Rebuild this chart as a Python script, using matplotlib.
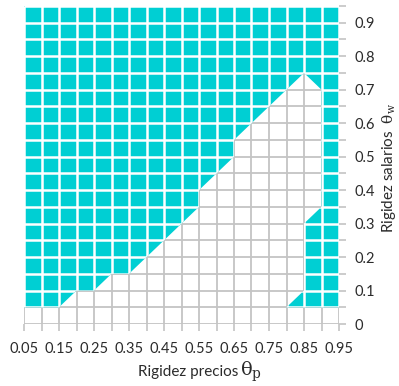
import numpy as np
import matplotlib.pyplot as plt
from matplotlib.ticker import FixedLocator

plt.rcParams['font.family'] = ['Lato', 'DejaVu Sans']
plt.rcParams['mathtext.fontset'] = 'dejavuserif'

# price rigidity (columns) and wage rigidity (rows)
theta_p = [0.05, 0.10, 0.15, 0.20, 0.25, 0.30, 0.35, 0.40, 0.45, 0.50,
           0.55, 0.60, 0.65, 0.70, 0.75, 0.80, 0.85, 0.90, 0.95]
theta_w = [0.00, 0.05, 0.10, 0.15, 0.20, 0.25, 0.30, 0.35, 0.40, 0.45,
           0.50, 0.55, 0.60, 0.65, 0.70, 0.75, 0.80, 0.85, 0.90, 0.95]

# 1 = determinate region, one row per theta_w value (bottom to top)
region = [
    [0, 0, 0, 0, 0, 0, 0, 0, 0, 0, 0, 0, 0, 0, 0, 0, 0, 0, 0],  # 0.00
    [1, 1, 1, 0, 0, 0, 0, 0, 0, 0, 0, 0, 0, 0, 0, 1, 1, 1, 1],  # 0.05
    [1, 1, 1, 1, 1, 0, 0, 0, 0, 0, 0, 0, 0, 0, 0, 0, 1, 1, 1],  # 0.10
    [1, 1, 1, 1, 1, 1, 1, 0, 0, 0, 0, 0, 0, 0, 0, 0, 1, 1, 1],  # 0.15
    [1, 1, 1, 1, 1, 1, 1, 1, 0, 0, 0, 0, 0, 0, 0, 0, 1, 1, 1],  # 0.20
    [1, 1, 1, 1, 1, 1, 1, 1, 1, 0, 0, 0, 0, 0, 0, 0, 1, 1, 1],  # 0.25
    [1, 1, 1, 1, 1, 1, 1, 1, 1, 1, 0, 0, 0, 0, 0, 0, 1, 1, 1],  # 0.30
    [1, 1, 1, 1, 1, 1, 1, 1, 1, 1, 1, 0, 0, 0, 0, 0, 0, 1, 1],  # 0.35
    [1, 1, 1, 1, 1, 1, 1, 1, 1, 1, 1, 0, 0, 0, 0, 0, 0, 1, 1],  # 0.40
    [1, 1, 1, 1, 1, 1, 1, 1, 1, 1, 1, 1, 0, 0, 0, 0, 0, 1, 1],  # 0.45
    [1, 1, 1, 1, 1, 1, 1, 1, 1, 1, 1, 1, 1, 0, 0, 0, 0, 1, 1],  # 0.50
    [1, 1, 1, 1, 1, 1, 1, 1, 1, 1, 1, 1, 1, 0, 0, 0, 0, 1, 1],  # 0.55
    [1, 1, 1, 1, 1, 1, 1, 1, 1, 1, 1, 1, 1, 1, 0, 0, 0, 1, 1],  # 0.60
    [1, 1, 1, 1, 1, 1, 1, 1, 1, 1, 1, 1, 1, 1, 1, 0, 0, 1, 1],  # 0.65
    [1, 1, 1, 1, 1, 1, 1, 1, 1, 1, 1, 1, 1, 1, 1, 1, 0, 1, 1],  # 0.70
    [1, 1, 1, 1, 1, 1, 1, 1, 1, 1, 1, 1, 1, 1, 1, 1, 1, 1, 1],  # 0.75
    [1, 1, 1, 1, 1, 1, 1, 1, 1, 1, 1, 1, 1, 1, 1, 1, 1, 1, 1],  # 0.80
    [1, 1, 1, 1, 1, 1, 1, 1, 1, 1, 1, 1, 1, 1, 1, 1, 1, 1, 1],  # 0.85
    [1, 1, 1, 1, 1, 1, 1, 1, 1, 1, 1, 1, 1, 1, 1, 1, 1, 1, 1],  # 0.90
    [1, 1, 1, 1, 1, 1, 1, 1, 1, 1, 1, 1, 1, 1, 1, 1, 1, 1, 1],  # 0.95
]

x_labels = ['0.05', '0.15', '0.25', '0.35', '0.45', '0.55', '0.65', '0.75', '0.85', '0.95']
y_labels = ['0', '0.1', '0.2', '0.3', '0.4', '0.5', '0.6', '0.7', '0.8', '0.9']

cyan = '#00cfd3'
grey = '#c4c4c4'
txt = '#2b2b2b'

fig = plt.figure(figsize=(3.99, 3.86), dpi=100)
ax = fig.add_axes([24 / 399, 62 / 386, 315 / 399, 318 / 386])

X, Y = np.meshgrid(theta_p, theta_w)
Z = np.array(region, dtype=float)
cs = ax.contourf(X, Y, Z, levels=[0.999, 1.5], colors=[cyan], zorder=1,
                 antialiased=True)

# grey mesh underneath, white mesh only over the filled band
ax.vlines(theta_p, theta_w[0], theta_w[-1], colors=grey, lw=1.3, zorder=0.5)
ax.hlines(theta_w, theta_p[0], theta_p[-1], colors=grey, lw=1.3, zorder=0.5)
vw = ax.vlines(theta_p, theta_w[0], theta_w[-1], colors='white', lw=1.8, zorder=2)
hw = ax.hlines(theta_w, theta_p[0], theta_p[-1], colors='white', lw=1.8, zorder=2)
band = cs.get_paths()[0]
for lc in (vw, hw):
    lc.set_clip_path(band, ax.transData)

ax.set_xlim(theta_p[0], theta_p[-1])
ax.set_ylim(theta_w[0], theta_w[-1])
for s in ax.spines.values():
    s.set_visible(False)

ax.xaxis.set_major_locator(FixedLocator(theta_p[::2]))
ax.xaxis.set_minor_locator(FixedLocator(theta_p[1::2]))
ax.set_xticklabels(x_labels)
ax.yaxis.tick_right()
ax.yaxis.set_major_locator(FixedLocator(theta_w[:-1:2]))
ax.yaxis.set_minor_locator(FixedLocator(theta_w[1::2]))
ax.set_yticklabels(y_labels)
ax.tick_params(which='both', length=5, width=1.2, color=grey, labelcolor=txt,
               labelsize=10.5)
ax.tick_params(axis='x', pad=8)
ax.tick_params(axis='y', pad=6)

fig.text(238 / 399, 1 - 372 / 386, 'Rigidez precios', ha='right', va='center',
         fontsize=11, color=txt)
fig.text(240 / 399, 1 - 372 / 386, r'$\mathrm{\theta_{p}}$', ha='left',
         va='center', fontsize=14, color=txt)
fig.text(389 / 399, 1 - 168 / 386, r'Rigidez salarios  $\mathrm{\theta_{w}}$',
         rotation=90, ha='center', va='center', fontsize=11, color=txt)

fig.savefig('out.png', dpi=100)
